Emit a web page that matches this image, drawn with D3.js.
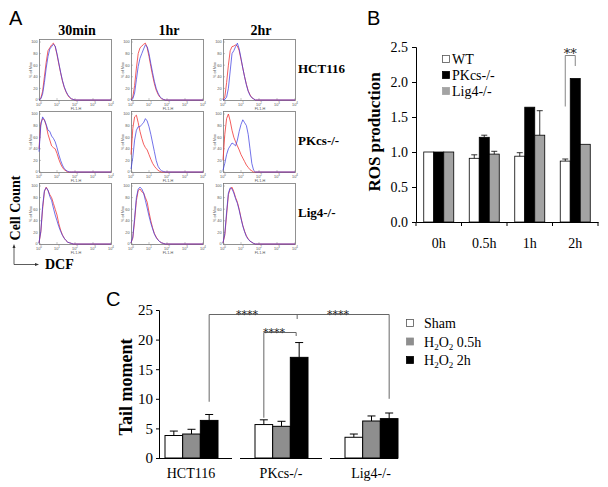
<!DOCTYPE html>
<html><head><meta charset="utf-8">
<script src="https://cdn.jsdelivr.net/npm/d3@7"></script>
<style>body{margin:0;background:#fff}svg{display:block}</style>
</head><body><svg id="c" width="608" height="487"></svg>
<script>
// ---------- Panel A data ----------
const histTimes = ["30min", "1hr", "2hr"];
const histLines = ["HCT116", "PKcs-/-", "Lig4-/-"];
const histX = [0,0.1,0.2,0.3,0.4,0.5,0.6,0.7,0.8,0.9,1.0,1.1,1.2,1.3,1.4,1.5,1.6,1.7,1.8,1.9,2.0,4.0];
const histYTicks = [0, 20, 40, 60, 80, 100];
const histXTicks = [0, 1, 2, 3, 4];
const redHCT116 = [
  [0,3,15,40,65,85,90,95,98,92,78,62,47,33,22,14,8,4,2,1,0,0],
  [0,5,25,55,80,90,93,96,98,90,75,58,42,28,17,10,5,2,1,0,0,0],
  [0,5,30,60,85,92,93,95,93,85,70,55,40,27,16,9,4,2,0,0,0,0]];
const blueHCT116 = [
  [0,2,10,30,55,75,88,92,96,93,80,64,48,34,23,15,9,5,2,1,0,0],
  [0,2,12,35,58,72,80,88,95,92,80,63,47,32,20,12,6,3,1,0,0,0],
  [0,1,5,20,50,80,85,92,98,88,72,55,40,26,15,8,4,2,0,0,0,0]];
const redPKcs = [
  [40,85,92,90,80,65,55,45,42,40,32,22,14,8,4,2,0,0,0,0,0,0],
  [30,75,95,98,85,70,58,48,42,38,30,22,15,10,6,3,1,0,0,0,0,0],
  [20,65,92,100,88,72,60,52,45,38,30,24,18,12,8,4,2,0,0,0,0,0]];
const bluePKcs = [
  [35,80,95,90,82,72,70,62,58,52,42,30,20,12,6,3,1,0,0,0,0,0],
  [5,25,55,72,78,78,82,85,92,88,78,65,50,35,20,10,5,2,1,0,0,0],
  [3,15,30,40,45,50,48,45,55,70,82,90,85,80,65,40,15,3,0,0,0,0]];
const redLig4 = [
  [2,20,60,90,98,92,85,80,70,60,50,35,24,16,10,6,3,2,1,0,0,0],
  [2,10,40,75,92,95,90,88,80,72,55,40,28,18,12,7,4,2,1,0,0,0],
  [2,15,50,85,95,98,90,80,72,60,45,32,22,14,9,5,3,1,0,0,0,0]];
const blueLig4 = [
  [2,22,65,92,97,93,82,75,62,50,40,30,22,15,10,6,3,2,1,0,0,0],
  [2,12,45,80,95,98,95,88,75,62,48,36,26,17,11,7,4,2,1,0,0,0],
  [2,18,55,88,97,95,88,78,70,58,44,31,21,13,8,5,3,1,0,0,0,0]];

// ---------- Panel B data ----------
const rosTimes = ["0h", "0.5h", "1h", "2h"];
const rosSeries = ["WT", "PKcs-/-", "Lig4-/-"];
const rosWT = [1.0, 0.91, 0.94, 0.87];
const rosWTErr = [0, 0.05, 0.05, 0.03];
const rosPK = [1.0, 1.21, 1.64, 2.05];
const rosPKErr = [0, 0.03, 0.01, 0.01];
const rosLig = [1.0, 0.97, 1.24, 1.11];
const rosLigErr = [0, 0.04, 0.35, 0];
const rosTicks = [0, 0.5, 1.0, 1.5, 2.0, 2.5];

// ---------- Panel C data ----------
const tailGroups = ["HCT116", "PKcs-/-", "Lig4-/-"];
const tailSeries = ["Sham", "H2O2 0.5h", "H2O2 2h"];
const tailSham = [3.8, 5.65, 3.5];
const tailShamErr = [0.75, 0.8, 0.55];
const tail05 = [4.05, 5.35, 6.25];
const tail05Err = [0.8, 0.85, 0.85];
const tail2 = [6.35, 17.0, 6.65];
const tail2Err = [1.0, 2.5, 0.95];
const tailTicks = [0, 5, 10, 15, 20, 25];

const SERIF = "'Liberation Serif','Times New Roman',serif";
const SANS = "'Liberation Sans',Arial,sans-serif";
const STAR = "'DejaVu Serif',serif";
const svg = d3.select("#c");

// ================= Panel A =================
svg.append("text").attr("x", 9).attr("y", 25).attr("font-family", SANS).attr("font-size", 20).attr("fill", "#000").text("A");
const colX = d3.scaleBand().domain(histTimes).range([39, 315]).paddingInner(0);
const rowY = d3.scaleBand().domain(histLines).range([39, 255]);
const redAll = [redHCT116, redPKcs, redLig4];
const blueAll = [blueHCT116, bluePKcs, blueLig4];
const boxW = 72, boxH = 61;

histTimes.forEach((t, ci) => {
  svg.append("text").attr("x", colX(t) + 38).attr("y", 35).attr("text-anchor", "middle")
    .attr("font-family", SERIF).attr("font-weight", "bold").attr("font-size", 14).attr("fill", "#000").text(t);
});
histLines.forEach((ln, ri) => {
  svg.append("text").attr("x", 298).attr("y", rowY(ln) + 34).attr("font-family", SERIF)
    .attr("font-weight", "bold").attr("font-size", 13).attr("fill", "#000").text(ln);
  histTimes.forEach((t, ci) => {
    const x0 = [39, 131, 223][ci];
    const top = rowY(ln);
    const bottom = top + boxH;
    const g = svg.append("g");
    const hx = d3.scaleLinear().domain([0, 4]).range([x0, x0 + boxW]);
    const hy = d3.scaleLinear().domain([0, 100]).range([bottom, top + 3]);
    g.append("rect").attr("x", x0 + 0.5).attr("y", top + 0.5).attr("width", boxW).attr("height", boxH)
      .attr("fill", "none").attr("stroke", "#777").attr("stroke-width", 0.8);
    histYTicks.forEach(v => {
      g.append("line").attr("x1", x0).attr("x2", x0 + 2).attr("y1", hy(v)).attr("y2", hy(v)).attr("stroke", "#888").attr("stroke-width", 0.5);
      g.append("text").attr("x", x0 - 1.5).attr("y", hy(v) + 1.3).attr("text-anchor", "end")
        .attr("font-family", SANS).attr("font-size", 3.8).attr("fill", "#555").text(v);
    });
    histXTicks.forEach(v => {
      const tx = g.append("text").attr("x", hx(v)).attr("y", bottom + 5.5).attr("text-anchor", "middle")
        .attr("font-family", SANS).attr("font-size", 3.8).attr("fill", "#555");
      tx.append("tspan").text("10");
      tx.append("tspan").attr("dy", -1.5).attr("font-size", 2.8).text(v);
      g.append("line").attr("x1", hx(v)).attr("x2", hx(v)).attr("y1", bottom).attr("y2", bottom - 2).attr("stroke", "#888").attr("stroke-width", 0.5);
    });
    g.append("text").attr("x", x0 + 37).attr("y", bottom + 9.5).attr("text-anchor", "middle")
      .attr("font-family", SANS).attr("font-size", 3.8).attr("fill", "#555").text("FL1-H");
    g.append("text").attr("transform", `translate(${x0 - 7},${top + 31}) rotate(-90)`).attr("text-anchor", "middle")
      .attr("font-family", SANS).attr("font-size", 3.8).attr("fill", "#555").text("% of Max");
    const line = d3.line().x((d, i) => hx(histX[i])).y(d => hy(d));
    g.append("path").datum(redAll[ri][ci]).attr("d", line).attr("fill", "none")
      .attr("stroke", "#f03838").attr("stroke-width", 0.9).attr("opacity", 0.9);
    g.append("path").datum(blueAll[ri][ci]).attr("d", line).attr("fill", "none")
      .attr("stroke", "#3a3ae0").attr("stroke-width", 0.9).attr("opacity", 0.8);
  });
});
svg.append("text").attr("transform", "translate(20,208) rotate(-90)").attr("text-anchor", "middle")
  .attr("font-family", SERIF).attr("font-weight", "bold").attr("font-size", 14).attr("fill", "#000").text("Cell Count");
svg.append("text").attr("x", 45).attr("y", 269).attr("font-family", SERIF).attr("font-weight", "bold")
  .attr("font-size", 14).attr("fill", "#000").text("DCF");
svg.append("path").attr("d", "M14,246 L14,264.5 L37,264.5").attr("fill", "none").attr("stroke", "#333").attr("stroke-width", 0.8);
svg.append("path").attr("d", "M12.5,248 L14,244 L15.5,248 Z").attr("fill", "#333");
svg.append("path").attr("d", "M35,263 L39,264.5 L35,266 Z").attr("fill", "#333");

// ================= Panel B =================
svg.append("text").attr("x", 367).attr("y", 25).attr("font-family", SANS).attr("font-size", 20).attr("fill", "#000").text("B");
const yB = d3.scaleLinear().domain([0, 2.5]).range([222, 47]);
const xB = d3.scaleBand().domain(rosTimes).range([416, 598]);
const xBin = d3.scaleBand().domain(rosSeries).range([7.75, 37.75]);
const rosVals = [rosWT, rosPK, rosLig];
const rosErrs = [rosWTErr, rosPKErr, rosLigErr];
const rosFill = ["#ffffff", "#000000", "#a3a3a3"];
const gB = svg.append("g");
rosSeries.forEach((s, si) => {
  rosTimes.forEach((t, ti) => {
    const x = xB(t) + xBin(s);
    const v = rosVals[si][ti];
    gB.append("rect").attr("x", x).attr("y", yB(v)).attr("width", xBin.bandwidth()).attr("height", yB(0) - yB(v))
      .attr("fill", rosFill[si]).attr("stroke", "#000").attr("stroke-width", 0.8);
    const e = rosErrs[si][ti];
    if (e > 0.015) {
      const cx = x + xBin.bandwidth() / 2;
      gB.append("line").attr("x1", cx).attr("x2", cx).attr("y1", yB(v)).attr("y2", yB(v + e)).attr("stroke", "#000").attr("stroke-width", 0.8);
      gB.append("line").attr("x1", cx - 3).attr("x2", cx + 3).attr("y1", yB(v + e)).attr("y2", yB(v + e)).attr("stroke", "#000").attr("stroke-width", 0.8);
    }
  });
});
const axB = gB.append("g").attr("transform", "translate(416,0)")
  .call(d3.axisLeft(yB).tickValues(rosTicks).tickFormat(d3.format(".1f")).tickSize(4).tickPadding(4));
axB.selectAll("text").attr("font-family", SERIF).attr("font-size", 14).attr("fill", "#000");
axB.selectAll("line,path").attr("stroke", "#000");
const axBx = gB.append("g").attr("transform", "translate(0,222)")
  .call(d3.axisBottom(xB).tickSize(0).tickPadding(16));
axBx.selectAll("text").attr("font-family", SERIF).attr("font-size", 14).attr("fill", "#000");
axBx.select("path").attr("stroke", "#000");
rosTimes.concat(["end"]).forEach((t, i) => {
  const x = i < rosTimes.length ? xB(t) : xB.range()[1];
  gB.append("line").attr("x1", x).attr("x2", x).attr("y1", 222).attr("y2", 226).attr("stroke", "#000");
});
svg.append("text").attr("transform", "translate(380,132) rotate(-90)").attr("text-anchor", "middle")
  .attr("font-family", SERIF).attr("font-weight", "bold").attr("font-size", 17).attr("fill", "#000").text("ROS production");
rosSeries.forEach((s, si) => {
  const y = 59 + si * 16;
  svg.append("rect").attr("x", 442.5).attr("y", y - 3.5).attr("width", 7).attr("height", 7)
    .attr("fill", rosFill[si]).attr("stroke", si === 0 ? "#555" : rosFill[si]).attr("stroke-width", 0.8);
  svg.append("text").attr("x", 452).attr("y", y + 5).attr("font-family", SERIF).attr("font-size", 14).attr("fill", "#000").text(s);
});
{
  const xl = xB("2h") + xBin("WT") + xBin.bandwidth() / 2;
  const xr = xB("2h") + xBin("PKcs-/-") + xBin.bandwidth() / 2;
  svg.append("path").attr("d", `M${xl},${yB(1.65)} L${xl},55.5 L${xr},55.5 L${xr},66`)
    .attr("fill", "none").attr("stroke", "#666").attr("stroke-width", 0.8);
  svg.append("text").attr("x", (xl + xr) / 2).attr("y", 58).attr("text-anchor", "middle")
    .attr("font-family", STAR).attr("font-size", 13).attr("fill", "#222").text("**");
}

// ================= Panel C =================
svg.append("text").attr("x", 106).attr("y", 306).attr("font-family", SANS).attr("font-size", 20).attr("fill", "#000").text("C");
const yC = d3.scaleLinear().domain([0, 25]).range([458, 310]);
const xC = d3.scaleBand().domain(tailGroups).range([150, 420]);
const xCin = d3.scaleBand().domain(tailSeries).range([15, 68]);
const tailVals = [tailSham, tail05, tail2];
const tailErrs = [tailShamErr, tail05Err, tail2Err];
const tailFill = ["#ffffff", "#8e8e8e", "#000000"];
const gC = svg.append("g");
tailSeries.forEach((s, si) => {
  tailGroups.forEach((grp, gi) => {
    const x = xC(grp) + xCin(s);
    const v = tailVals[si][gi];
    const e = tailErrs[si][gi];
    const cx = x + xCin.bandwidth() / 2;
    gC.append("line").attr("x1", cx).attr("x2", cx).attr("y1", yC(v)).attr("y2", yC(v + e)).attr("stroke", "#000").attr("stroke-width", 1);
    gC.append("line").attr("x1", cx - 4).attr("x2", cx + 4).attr("y1", yC(v + e)).attr("y2", yC(v + e)).attr("stroke", "#000").attr("stroke-width", 1);
    gC.append("rect").attr("x", x).attr("y", yC(v)).attr("width", xCin.bandwidth()).attr("height", yC(0) - yC(v))
      .attr("fill", tailFill[si]).attr("stroke", "#000").attr("stroke-width", 1);
  });
});
const axC = gC.append("g").attr("transform", "translate(159,0)")
  .call(d3.axisLeft(yC).tickValues(tailTicks).tickSize(3).tickPadding(3));
axC.selectAll("text").attr("font-family", SERIF).attr("font-size", 15).attr("fill", "#000");
axC.selectAll("line,path").attr("stroke", "#000");
tailGroups.forEach((grp, gi) => {
  const x1 = Math.max(xC(grp), 159);
  const x2 = Math.min(xC(grp) + 82, 398);
  gC.append("line").attr("x1", x1).attr("x2", x2).attr("y1", 458.5).attr("y2", 458.5).attr("stroke", "#000").attr("stroke-width", 1);
  gC.append("text").attr("x", xC(grp) + 41).attr("y", 478).attr("text-anchor", "middle")
    .attr("font-family", SERIF).attr("font-size", 14).attr("fill", "#000").text(grp);
});
svg.append("text").attr("transform", "translate(132,387) rotate(-90)").attr("text-anchor", "middle")
  .attr("font-family", SERIF).attr("font-weight", "bold").attr("font-size", 18).attr("fill", "#000").text("Tail moment");
{
  const cxOf = (grp, s) => xC(grp) + xCin(s) + xCin.bandwidth() / 2;
  const xa = cxOf("HCT116", "H2O2 2h"), xb = cxOf("Lig4-/-", "H2O2 2h");
  const xm = (xa + xb) / 2;
  svg.append("path").attr("d", `M${xa},${yC(9.5)} L${xa},314.5 L${xb},314.5 L${xb},${yC(10)}`)
    .attr("fill", "none").attr("stroke", "#666").attr("stroke-width", 1);
  svg.append("line").attr("x1", xm - 2).attr("x2", xm - 2).attr("y1", 314.5).attr("y2", 319).attr("stroke", "#666");
  const xp = cxOf("PKcs-/-", "Sham"), xq = cxOf("PKcs-/-", "H2O2 2h");
  svg.append("path").attr("d", `M${xp},${yC(6.8)} L${xp},332.5 L${xq - 3},332.5 L${xq - 3},336`)
    .attr("fill", "none").attr("stroke", "#666").attr("stroke-width", 1);
  const st = [[247, 318], [338, 318], [274, 336]];
  st.forEach(([x, y]) => svg.append("text").attr("x", x).attr("y", y).attr("text-anchor", "middle")
    .attr("font-family", STAR).attr("font-size", 11).attr("fill", "#222").text("****"));
}
tailSeries.forEach((s, si) => {
  const y = 323 + si * 18.5;
  svg.append("rect").attr("x", 406.5).attr("y", y - 3.5).attr("width", 7).attr("height", 7)
    .attr("fill", tailFill[si]).attr("stroke", si === 0 ? "#555" : tailFill[si]).attr("stroke-width", 0.8);
  const t = svg.append("text").attr("x", 424).attr("y", y + 5).attr("font-family", SERIF).attr("font-size", 14).attr("fill", "#000");
  if (s === "Sham") t.text("Sham");
  else {
    t.append("tspan").text("H");
    t.append("tspan").attr("font-size", 9).attr("dy", 3).text("2");
    t.append("tspan").attr("dy", -3).text("O");
    t.append("tspan").attr("font-size", 9).attr("dy", 3).text("2");
    t.append("tspan").attr("dy", -3).text(" " + s.split(" ")[1]);
  }
});
</script></body></html>
